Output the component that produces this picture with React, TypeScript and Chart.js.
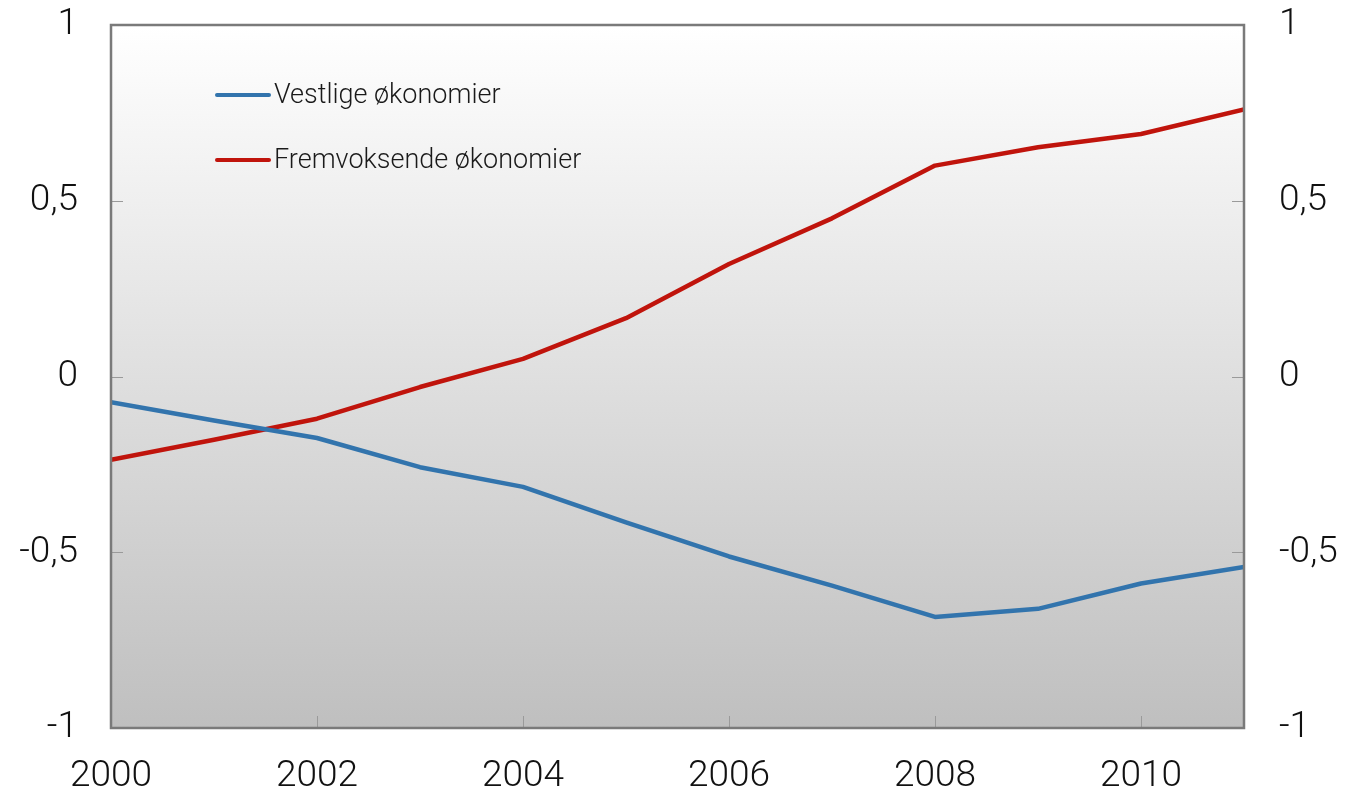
import React, { useEffect, useRef } from "react";
import { Chart, registerables } from "chart.js";

Chart.register(...registerables);

const years = [2000, 2001, 2002, 2003, 2004, 2005, 2006, 2007, 2008, 2009, 2010, 2011];
const vestlige = [-0.073, -0.125, -0.175, -0.258, -0.314, -0.415, -0.512, -0.595, -0.684, -0.661, -0.589, -0.542];
const fremvoksende = [-0.237, -0.18, -0.12, -0.03, 0.05, 0.166, 0.32, 0.45, 0.6, 0.652, 0.69, 0.76];
const xTicks = [2000, 2002, 2004, 2006, 2008, 2010];
const yTicks = [-1, -0.5, 0, 0.5, 1];
const seriesNames = ["Vestlige økonomier", "Fremvoksende økonomier"];
const colors = ["#3274ad", "#c0140c"];

const FONT = "Roboto";

const framePlugin = {
  id: "frame",
  beforeDatasetsDraw(chart: any) {
    const { ctx, chartArea: a } = chart;
    ctx.save();
    const g = ctx.createLinearGradient(0, a.top, 0, a.bottom);
    g.addColorStop(0, "#ffffff");
    g.addColorStop(1, "#bfbfbf");
    ctx.fillStyle = g;
    ctx.fillRect(a.left, a.top, a.right - a.left, a.bottom - a.top);
    ctx.strokeStyle = "#9a9a9a";
    ctx.lineWidth = 1;
    const ys = chart.scales.y;
    const xs = chart.scales.x;
    ctx.beginPath();
    yTicks.forEach((v) => {
      if (v === -1 || v === 1) return;
      const py = Math.round(ys.getPixelForValue(v)) + 0.5;
      ctx.moveTo(a.left, py);
      ctx.lineTo(a.left + 12, py);
      ctx.moveTo(a.right, py);
      ctx.lineTo(a.right - 12, py);
    });
    xTicks.forEach((v) => {
      if (v === 2000) return;
      const px = Math.round(xs.getPixelForValue(v)) + 0.5;
      ctx.moveTo(px, a.bottom);
      ctx.lineTo(px, a.bottom - 12);
    });
    ctx.stroke();
    ctx.restore();
  },
  afterDatasetsDraw(chart: any) {
    const { ctx, chartArea: a } = chart;
    ctx.save();
    ctx.strokeStyle = "#7a7a7a";
    ctx.lineWidth = 2.5;
    ctx.strokeRect(a.left, a.top, a.right - a.left, a.bottom - a.top);
    const items = [
      { y: 95, name: seriesNames[0], color: colors[0] },
      { y: 160, name: seriesNames[1], color: colors[1] },
    ];
    items.forEach((it) => {
      ctx.strokeStyle = it.color;
      ctx.lineWidth = 4;
      ctx.lineCap = "round";
      ctx.beginPath();
      ctx.moveTo(217, it.y);
      ctx.lineTo(269, it.y);
      ctx.stroke();
      ctx.fillStyle = "#1a1a1a";
      ctx.font = `300 27px ${FONT}`;
      ctx.textBaseline = "middle";
      ctx.textAlign = "left";
      ctx.fillText(it.name, 274, it.y + 1);
    });
    ctx.restore();
  },
};

export default function App() {
  const ref = useRef<HTMLCanvasElement>(null);
  useEffect(() => {
    document.body.style.margin = "0";
    const fmt = (v: any) => String(v).replace(".", ",");
    const tickFont = { family: FONT, size: 37, weight: "300" };
    const yFit = (w: number) => (s: any) => {
      s.width = w;
      s.paddingTop = 0;
      s.paddingBottom = 0;
    };
    const chart = new Chart(ref.current!, {
      type: "line",
      data: {
        datasets: [
          {
            label: seriesNames[0],
            data: years.map((y, i) => ({ x: y, y: vestlige[i] })),
            borderColor: colors[0],
            borderWidth: 4.5,
            pointRadius: 0,
            tension: 0,
            borderCapStyle: "round",
            borderJoinStyle: "round",
          },
          {
            label: seriesNames[1],
            data: years.map((y, i) => ({ x: y, y: fremvoksende[i] })),
            borderColor: colors[1],
            borderWidth: 4.5,
            pointRadius: 0,
            tension: 0,
            borderCapStyle: "round",
            borderJoinStyle: "round",
          },
        ],
      },
      plugins: [framePlugin],
      options: {
        animation: false,
        responsive: false,
        maintainAspectRatio: false,
        layout: { padding: { top: 25, left: 0, right: 0, bottom: 0 } },
        plugins: { legend: { display: false }, tooltip: { enabled: false } },
        scales: {
          x: {
            type: "linear",
            min: 2000,
            max: 2011,
            grid: { display: false, drawTicks: false },
            border: { display: false },
            afterBuildTicks: (s: any) => {
              s.ticks = xTicks.map((v) => ({ value: v }));
            },
            afterFit: (s: any) => {
              s.height = 68;
              s.paddingLeft = 0;
              s.paddingRight = 0;
            },
            ticks: {
              color: "#111",
              font: tickFont,
              padding: 27,
              maxRotation: 0,
              autoSkip: false,
              callback: (v: any) => String(v),
            },
          },
          y: {
            position: "left",
            min: -1,
            max: 1,
            grid: { display: false, drawTicks: false },
            border: { display: false },
            afterBuildTicks: (s: any) => {
              s.ticks = yTicks.map((v) => ({ value: v }));
            },
            afterFit: yFit(111),
            ticks: {
              color: "#111",
              font: tickFont,
              padding: 33,
              callback: fmt,
            },
          },
          y2: {
            position: "right",
            min: -1,
            max: 1,
            grid: { display: false, drawTicks: false },
            border: { display: false },
            afterBuildTicks: (s: any) => {
              s.ticks = yTicks.map((v) => ({ value: v }));
            },
            afterFit: yFit(102),
            ticks: {
              color: "#111",
              font: tickFont,
              padding: 35,
              callback: fmt,
            },
          },
        },
      },
    } as any);
    return () => chart.destroy();
  }, []);
  return (
    <div style={{ position: "absolute", left: 0, top: 0, width: 1346, height: 796 }}>
      <canvas ref={ref} width={1346} height={796} style={{ width: 1346, height: 796 }} />
    </div>
  );
}
